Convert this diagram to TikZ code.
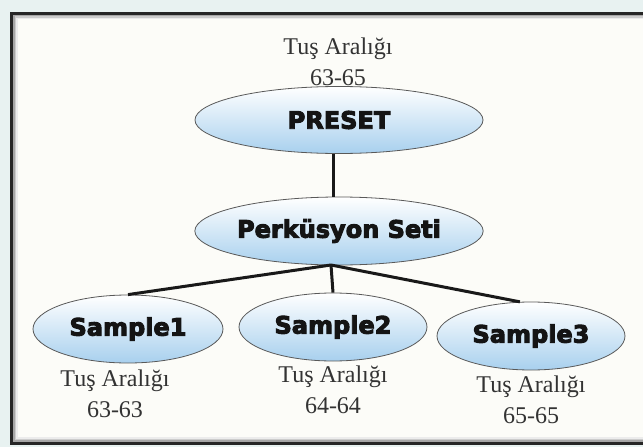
\documentclass[tikz,border=0pt]{standalone}
\usepackage{fontspec}
\setmainfont{Liberation Serif}
\newfontfamily\headfont{DejaVu Sans}[UprightFont=*-Bold, FakeBold=4]
\usetikzlibrary{shapes.geometric}
\definecolor{bgout}{HTML}{E8F2F1}
\definecolor{bgin}{HTML}{FCFCF8}
\definecolor{ellblue}{HTML}{A8D0EE}
\definecolor{labelgray}{HTML}{333333}
\begin{document}
\begin{tikzpicture}[x=1pt,y=-1pt,
  oval/.style={ellipse, draw=gray!70!black, line width=0.8pt, top color=white, bottom color=ellblue,
    inner sep=0pt, font=\headfont\fontsize{24}{28}\selectfont, text=black!92},
  rng/.style={align=center, font=\fontsize{24}{31}\selectfont, text=labelgray, inner sep=0pt},
  link/.style={line width=3pt, black!90}]
\useasboundingbox (0,0) rectangle (643,447);
\fill[bgout] (0,0) rectangle (643,447);
\fill[bgin] (11,13) rectangle (660,444);
\draw[gray!15, line width=1.5pt] (16.75,18.5) rectangle (660,438);
\draw[gray!40, line width=1.5pt] (15.25,17) rectangle (660,439.5);
\draw[gray!70, line width=1.5pt] (13.75,15.5) rectangle (660,441);
\draw[black!85, line width=2.5pt] (11.25,13.25) rectangle (660,443.5);

\node[rng] (lp) at (338,62) {Tuş Aralığı\\63-65};
\node[oval, minimum width=288pt, minimum height=67pt] (preset) at (339,120) {PRESET};
\node[oval, minimum width=252pt, minimum height=68pt] (perc) at (339,231) {Perküsyon Seti};
\node[oval, minimum width=190pt, minimum height=68pt] (s1) at (128,329) {Sample1};
\node[oval, minimum width=188pt, minimum height=68pt] (s2) at (333,327) {Sample2};
\node[oval, minimum width=188pt, minimum height=68pt] (s3) at (531,336) {Sample3};
\node[rng] (l1) at (115,394) {Tuş Aralığı\\63-63};
\node[rng] (l2) at (333,390) {Tuş Aralığı\\64-64};
\node[rng] (l3) at (531,400) {Tuş Aralığı\\65-65};

\coordinate (hub) at (331,265);
\draw[link] (preset.south -| s2.north) -- (perc.north -| s2.north);
\draw[link] (hub) -- (s1.north);
\draw[link] (hub) -- (s2.north);
\draw[link] (hub) -- (s3.108);
\end{tikzpicture}
\end{document}
